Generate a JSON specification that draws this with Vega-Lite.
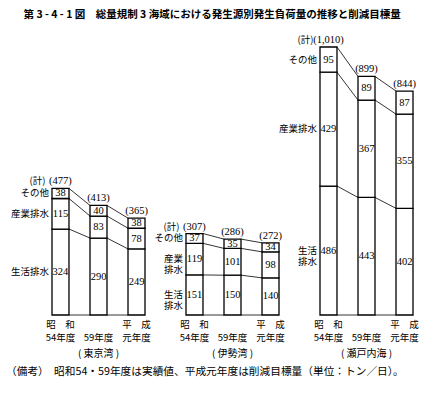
{
  "$schema": "https://vega.github.io/schema/vega-lite/v6.json",
  "background": "white",
  "padding": {"left": 5, "top": 9, "right": 5, "bottom": 5},
  "config": {"view": {"stroke": null}, "font": "Noto Sans CJK JP"},
  "title": {"text": "第 3 - 4 - 1 図　総量規制 3 海域における発生源別発生負荷量の推移と削減目標量", "fontSize": 10.5, "fontWeight": "bold", "font": "Noto Sans CJK JP", "anchor": "middle", "offset": 15, "color": "black"},
  "vconcat": [
    {
      "title": {"text": "（備考）　昭和54・59年度は実績値、平成元年度は削減目標量（単位：トン／日）。", "orient": "bottom", "anchor": "start", "fontSize": 10.7, "fontWeight": "normal", "font": "Noto Sans CJK JP", "offset": 8, "dx": -5, "color": "black"},
      "data": {"values": [
        {"kind": "bar", "r": "東京湾", "y": "1979", "s": "生活排水", "k": 1, "v": 324, "lbl": "生活排水"},
        {"kind": "bar", "r": "東京湾", "y": "1979", "s": "産業排水", "k": 2, "v": 115, "lbl": "産業排水"},
        {"kind": "bar", "r": "東京湾", "y": "1979", "s": "その他", "k": 3, "v": 38, "lbl": "その他"},
        {"kind": "bar", "r": "東京湾", "y": "1984", "s": "生活排水", "k": 1, "v": 290},
        {"kind": "bar", "r": "東京湾", "y": "1984", "s": "産業排水", "k": 2, "v": 83},
        {"kind": "bar", "r": "東京湾", "y": "1984", "s": "その他", "k": 3, "v": 40},
        {"kind": "bar", "r": "東京湾", "y": "1989", "s": "生活排水", "k": 1, "v": 249},
        {"kind": "bar", "r": "東京湾", "y": "1989", "s": "産業排水", "k": 2, "v": 78},
        {"kind": "bar", "r": "東京湾", "y": "1989", "s": "その他", "k": 3, "v": 38},
        {"kind": "bar", "r": "伊勢湾", "y": "1979", "s": "生活排水", "k": 1, "v": 151, "lbl": "生活\n排水"},
        {"kind": "bar", "r": "伊勢湾", "y": "1979", "s": "産業排水", "k": 2, "v": 119, "lbl": "産業\n排水"},
        {"kind": "bar", "r": "伊勢湾", "y": "1979", "s": "その他", "k": 3, "v": 37, "lbl": "その他"},
        {"kind": "bar", "r": "伊勢湾", "y": "1984", "s": "生活排水", "k": 1, "v": 150},
        {"kind": "bar", "r": "伊勢湾", "y": "1984", "s": "産業排水", "k": 2, "v": 101},
        {"kind": "bar", "r": "伊勢湾", "y": "1984", "s": "その他", "k": 3, "v": 35},
        {"kind": "bar", "r": "伊勢湾", "y": "1989", "s": "生活排水", "k": 1, "v": 140},
        {"kind": "bar", "r": "伊勢湾", "y": "1989", "s": "産業排水", "k": 2, "v": 98},
        {"kind": "bar", "r": "伊勢湾", "y": "1989", "s": "その他", "k": 3, "v": 34},
        {"kind": "bar", "r": "瀬戸内海", "y": "1979", "s": "生活排水", "k": 1, "v": 486, "lbl": "生活\n排水"},
        {"kind": "bar", "r": "瀬戸内海", "y": "1979", "s": "産業排水", "k": 2, "v": 429, "lbl": "産業排水"},
        {"kind": "bar", "r": "瀬戸内海", "y": "1979", "s": "その他", "k": 3, "v": 95, "lbl": "その他"},
        {"kind": "bar", "r": "瀬戸内海", "y": "1984", "s": "生活排水", "k": 1, "v": 443},
        {"kind": "bar", "r": "瀬戸内海", "y": "1984", "s": "産業排水", "k": 2, "v": 367},
        {"kind": "bar", "r": "瀬戸内海", "y": "1984", "s": "その他", "k": 3, "v": 89},
        {"kind": "bar", "r": "瀬戸内海", "y": "1989", "s": "生活排水", "k": 1, "v": 402},
        {"kind": "bar", "r": "瀬戸内海", "y": "1989", "s": "産業排水", "k": 2, "v": 355},
        {"kind": "bar", "r": "瀬戸内海", "y": "1989", "s": "その他", "k": 3, "v": 87},
        {"kind": "line", "r": "東京湾", "y": "1979", "n": "1984", "a": 0, "b": 0},
        {"kind": "line", "r": "東京湾", "y": "1979", "n": "1984", "a": 324, "b": 290},
        {"kind": "line", "r": "東京湾", "y": "1979", "n": "1984", "a": 439, "b": 373},
        {"kind": "line", "r": "東京湾", "y": "1979", "n": "1984", "a": 477, "b": 413},
        {"kind": "line", "r": "東京湾", "y": "1984", "n": "1989", "a": 0, "b": 0},
        {"kind": "line", "r": "東京湾", "y": "1984", "n": "1989", "a": 290, "b": 249},
        {"kind": "line", "r": "東京湾", "y": "1984", "n": "1989", "a": 373, "b": 327},
        {"kind": "line", "r": "東京湾", "y": "1984", "n": "1989", "a": 413, "b": 365},
        {"kind": "line", "r": "伊勢湾", "y": "1979", "n": "1984", "a": 0, "b": 0},
        {"kind": "line", "r": "伊勢湾", "y": "1979", "n": "1984", "a": 151, "b": 150},
        {"kind": "line", "r": "伊勢湾", "y": "1979", "n": "1984", "a": 270, "b": 251},
        {"kind": "line", "r": "伊勢湾", "y": "1979", "n": "1984", "a": 307, "b": 286},
        {"kind": "line", "r": "伊勢湾", "y": "1984", "n": "1989", "a": 0, "b": 0},
        {"kind": "line", "r": "伊勢湾", "y": "1984", "n": "1989", "a": 150, "b": 140},
        {"kind": "line", "r": "伊勢湾", "y": "1984", "n": "1989", "a": 251, "b": 238},
        {"kind": "line", "r": "伊勢湾", "y": "1984", "n": "1989", "a": 286, "b": 272},
        {"kind": "line", "r": "瀬戸内海", "y": "1979", "n": "1984", "a": 0, "b": 0},
        {"kind": "line", "r": "瀬戸内海", "y": "1979", "n": "1984", "a": 486, "b": 443},
        {"kind": "line", "r": "瀬戸内海", "y": "1979", "n": "1984", "a": 915, "b": 810},
        {"kind": "line", "r": "瀬戸内海", "y": "1979", "n": "1984", "a": 1010, "b": 899},
        {"kind": "line", "r": "瀬戸内海", "y": "1984", "n": "1989", "a": 0, "b": 0},
        {"kind": "line", "r": "瀬戸内海", "y": "1984", "n": "1989", "a": 443, "b": 402},
        {"kind": "line", "r": "瀬戸内海", "y": "1984", "n": "1989", "a": 810, "b": 757},
        {"kind": "line", "r": "瀬戸内海", "y": "1984", "n": "1989", "a": 899, "b": 844},
        {"kind": "tot", "r": "東京湾", "y": "1979", "t": 477},
        {"kind": "tot", "r": "東京湾", "y": "1984", "t": 413},
        {"kind": "tot", "r": "東京湾", "y": "1989", "t": 365},
        {"kind": "tot", "r": "伊勢湾", "y": "1979", "t": 307},
        {"kind": "tot", "r": "伊勢湾", "y": "1984", "t": 286},
        {"kind": "tot", "r": "伊勢湾", "y": "1989", "t": 272},
        {"kind": "tot", "r": "瀬戸内海", "y": "1979", "t": 1010},
        {"kind": "tot", "r": "瀬戸内海", "y": "1984", "t": 899},
        {"kind": "tot", "r": "瀬戸内海", "y": "1989", "t": 844}
      ]},
      "facet": {"column": {"field": "r", "type": "nominal", "sort": ["東京湾", "伊勢湾", "瀬戸内海"],
        "header": {"title": null, "labelOrient": "bottom", "labelExpr": "'( ' + datum.value + ' )'", "labelFontSize": 10, "labelFont": "Noto Sans CJK JP", "labelColor": "black", "labelPadding": 7}}},
      "spacing": 41,
      "bounds": "flush",
      "spec": {
        "width": 93,
        "height": 268,
        "layer": [
          {
            "transform": [{"filter": "datum.kind == 'bar'"}],
            "mark": {"type": "bar", "fill": "white", "stroke": "black", "strokeWidth": 1.3},
            "encoding": {
              "x": {"field": "y", "type": "ordinal", "scale": {"paddingInner": 0.553, "paddingOuter": 0},
                "axis": {"title": null, "domain": false, "ticks": false, "labelAngle": 0, "labelFontSize": 9.5, "labelFont": "Noto Sans CJK JP", "labelColor": "black", "labelPadding": 4, "labelLineHeight": 13,
                  "labelExpr": "datum.value == '1979' ? ['昭　和', '54年度'] : datum.value == '1984' ? ['', '59年度'] : ['平　成', '元年度']"}},
              "y": {"field": "v", "type": "quantitative", "stack": "zero", "scale": {"domain": [0, 1010], "nice": false}, "axis": null},
              "order": {"field": "k", "type": "quantitative"},
              "detail": {"field": "s", "type": "nominal"}
            }
          },
          {
            "transform": [{"filter": "datum.kind == 'line'"}],
            "mark": {"type": "rule", "color": "black", "strokeWidth": 0.8},
            "encoding": {
              "x": {"field": "y", "type": "ordinal", "bandPosition": 1},
              "x2": {"field": "n", "bandPosition": 0},
              "y": {"field": "a", "type": "quantitative"},
              "y2": {"field": "b"}
            }
          },
          {
            "transform": [{"filter": "datum.kind == 'bar'"}],
            "mark": {"type": "text", "font": "Liberation Serif", "fontSize": 10.5, "baseline": "middle", "color": "black"},
            "encoding": {
              "x": {"field": "y", "type": "ordinal"},
              "y": {"field": "v", "type": "quantitative", "stack": "zero", "bandPosition": 0.5},
              "order": {"field": "k", "type": "quantitative"},
              "detail": {"field": "s", "type": "nominal"},
              "text": {"field": "v", "type": "quantitative"}
            }
          },
          {
            "transform": [{"filter": "datum.kind == 'bar' && datum.y == '1979'"}],
            "mark": {"type": "text", "fontSize": 9.5, "align": "right", "baseline": "middle", "dx": -3, "lineBreak": "\n", "lineHeight": 11, "color": "black"},
            "encoding": {
              "x": {"field": "y", "type": "ordinal", "bandPosition": 0},
              "y": {"field": "v", "type": "quantitative", "stack": "zero", "bandPosition": 0.5},
              "order": {"field": "k", "type": "quantitative"},
              "detail": {"field": "s", "type": "nominal"},
              "text": {"field": "lbl", "type": "nominal"}
            }
          },
          {
            "transform": [{"filter": "datum.kind == 'tot'"}],
            "mark": {"type": "text", "font": "Liberation Serif", "fontSize": 10.5, "baseline": "middle", "dy": -7, "color": "black", "text": {"expr": "'(' + format(datum.t, ',') + ')'"}},
            "encoding": {
              "x": {"field": "y", "type": "ordinal"},
              "y": {"field": "t", "type": "quantitative"}
            }
          },
          {
            "transform": [{"filter": "datum.kind == 'tot' && datum.y == '1979'"}],
            "mark": {"type": "text", "fontSize": 9.5, "align": "right", "baseline": "middle", "dy": -7, "dx": -15, "color": "black", "text": "(計)"},
            "encoding": {
              "x": {"field": "y", "type": "ordinal"},
              "y": {"field": "t", "type": "quantitative"}
            }
          }
        ]
      }
    }
  ]
}
